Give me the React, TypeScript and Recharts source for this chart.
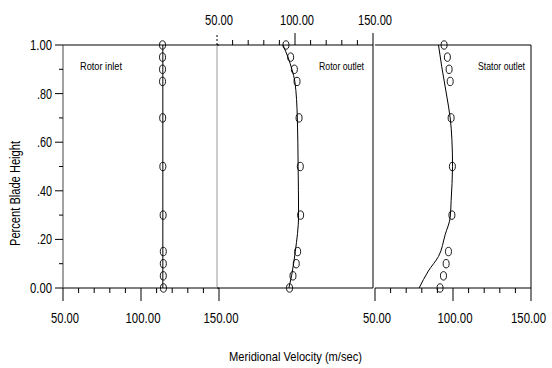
import React from "react"
import { ComposedChart, Line, Scatter, XAxis, YAxis, ReferenceLine } from "recharts"

// ─── Data ────────────────────────────────────────────────────────────────────
const heights = [1.0, 0.95, 0.9, 0.85, 0.7, 0.5, 0.3, 0.15, 0.1, 0.05, 0.0]

const rotorInletMeas = [113.8, 113.8, 113.8, 113.8, 113.9, 114.0, 114.2, 114.3, 114.3, 114.3, 114.4]
const rotorOutletMeas = [94.2, 97.2, 99.6, 101.3, 102.6, 103.4, 103.6, 101.7, 100.8, 98.7, 96.5]
const statorOutletMeas = [94.3, 96.4, 97.5, 98.2, 98.8, 99.6, 99.3, 97.1, 95.6, 93.9, 91.7]

// fitted curves (height, velocity)
const rotorInletFitH = [0, 1]
const rotorInletFitV = [114.0, 114.0]
const rotorOutletFitH = [0, 0.05, 0.1, 0.15, 0.3, 0.5, 0.7, 0.85, 0.9, 0.95, 1.0]
const rotorOutletFitV = [96.1, 97.8, 99.1, 100.2, 102.3, 102.0, 101.5, 99.9, 98.0, 95.5, 92.3]
const statorOutletFitH = [0, 0.07, 0.13, 0.22, 0.29, 0.36, 0.5, 0.61, 0.7, 0.79, 0.91, 1.0]
const statorOutletFitV = [78.3, 84.2, 90.7, 95.0, 98.2, 98.8, 99.7, 99.3, 98.2, 96.0, 92.8, 90.7]

const xTicks = [50, 60, 70, 80, 90, 100, 110, 120, 130, 140, 150]
const yTicks = [0, 0.1, 0.2, 0.3, 0.4, 0.5, 0.6, 0.7, 0.8, 0.9, 1.0]

const pts = (v: number[], h: number[]) => v.map((x, i) => ({ v: x, h: h[i] }))

// the original uses a very narrow face; squeeze Liberation Sans with textLength
const FONT = "'Liberation Sans', Arial, sans-serif"
const W = 552
const H = 368

function Narrow({ w, children, ...rest }: any) {
  return (
    <text fontFamily={FONT} fill="#000" textLength={w} lengthAdjust="spacingAndGlyphs" {...rest}>
      {children}
    </text>
  )
}

// ─── Ticks ───────────────────────────────────────────────────────────────────
function BottomTick({ x, y, payload }: any) {
  const major = payload.value % 50 === 0
  const s = payload.value.toFixed(2)
  const w = s.length > 5 ? 35 : 28
  // the right-most label is pulled in a little so it stays on the page
  const tx = Math.min(x + 2, W - 6 - w / 2)
  return (
    <g>
      <line x1={x} y1={y} x2={x} y2={y + (major ? 13 : 5)} stroke="#000" />
      {major && (
        <Narrow x={tx} y={y + 35} textAnchor="middle" fontSize={15} w={w}>
          {s}
        </Narrow>
      )}
    </g>
  )
}

function TopTick({ x, y, payload }: any) {
  const major = payload.value % 50 === 0
  const s = payload.value.toFixed(2)
  return (
    <g>
      <line x1={x} y1={y} x2={x} y2={y - (major ? 12 : 5)} stroke="#000"
        strokeDasharray={payload.value === 50 ? "2 2" : undefined} />
      {major && (
        <Narrow x={x + 2} y={y - 20} textAnchor="middle" fontSize={15} w={s.length > 5 ? 34 : 28}>
          {s}
        </Narrow>
      )}
    </g>
  )
}

function LeftTick({ x, y, payload }: any) {
  const k = Math.round(payload.value * 10)
  const major = k % 2 === 0
  const label = k === 0 ? "0.00" : k === 10 ? "1.00" : "." + (k * 10)
  return (
    <g>
      <line x1={x} y1={y} x2={x - (major ? 8 : 4)} y2={y} stroke="#000" />
      {major && (
        <Narrow x={x - 11} y={y} dy="0.36em" textAnchor="end" fontSize={14} w={label.length > 3 ? 22 : 15}>
          {label}
        </Narrow>
      )}
    </g>
  )
}

function Circle({ cx, cy }: any) {
  return <ellipse cx={cx} cy={cy} rx={3} ry={4.2} fill="none" stroke="#000" strokeWidth={0.9} />
}

// ─── App ─────────────────────────────────────────────────────────────────────
export default function App() {
  const layer: React.CSSProperties = { position: "absolute", left: 0, top: 0 }
  return (
    <div style={{ position: "absolute", left: 0, top: 0, width: W, height: H, background: "#fff" }}>
      {/* Rotor inlet */}
      <div style={layer}>
        <ComposedChart width={W} height={H} margin={{ top: 45, right: 333, bottom: 40, left: 20 }}>
          <XAxis dataKey="v" type="number" domain={[50, 150]} ticks={xTicks} interval={0}
            tickSize={0} tickMargin={0} height={40} tick={<BottomTick />} stroke="#000" />
          <YAxis dataKey="h" type="number" domain={[0, 1]} ticks={yTicks} interval={0}
            tickSize={0} tickMargin={0} width={43} tick={<LeftTick />} stroke="#444" />
          <ReferenceLine y={1} stroke="#000" />
          <Line data={pts(rotorInletFitV, rotorInletFitH)} dataKey="h" type="linear"
            stroke="#000" strokeWidth={1} dot={false} isAnimationActive={false} />
          <Scatter data={pts(rotorInletMeas, heights)} shape={<Circle />} isAnimationActive={false} />
        </ComposedChart>
      </div>

      {/* Rotor outlet */}
      <div style={layer}>
        <ComposedChart width={W} height={H} margin={{ top: 15, right: 179, bottom: 80, left: 217 }}>
          <XAxis dataKey="v" type="number" domain={[50, 150]} ticks={xTicks} interval={0}
            orientation="top" tickSize={0} tickMargin={0} height={30} tick={<TopTick />} stroke="#000" />
          <YAxis dataKey="h" type="number" domain={[0, 1]} hide />
          <ReferenceLine x={50} stroke="#999" />
          <ReferenceLine x={150} stroke="#000" />
          <ReferenceLine y={0} stroke="#000" />
          <Line data={pts(rotorOutletFitV, rotorOutletFitH)} dataKey="h" type="monotoneY"
            stroke="#000" strokeWidth={1} dot={false} isAnimationActive={false} />
          <Scatter data={pts(rotorOutletMeas, heights)} shape={<Circle />} isAnimationActive={false} />
        </ComposedChart>
      </div>

      {/* Stator outlet */}
      <div style={layer}>
        <ComposedChart width={W} height={H} margin={{ top: 45, right: 21, bottom: 40, left: 375 }}>
          <XAxis dataKey="v" type="number" domain={[50, 150]} ticks={xTicks} interval={0}
            tickSize={0} tickMargin={0} height={40} tick={<BottomTick />} stroke="#000" />
          <YAxis dataKey="h" type="number" domain={[0, 1]} hide />
          <ReferenceLine y={1} stroke="#000" />
          <ReferenceLine x={150} stroke="#000" />
          <Line data={pts(statorOutletFitV, statorOutletFitH)} dataKey="h" type="monotoneY"
            stroke="#000" strokeWidth={1} dot={false} isAnimationActive={false} />
          <Scatter data={pts(statorOutletMeas, heights)} shape={<Circle />} isAnimationActive={false} />
        </ComposedChart>
      </div>

      {/* titles and panel notes */}
      <svg width={W} height={H} style={{ ...layer, pointerEvents: "none" }}>
        <Narrow x={80} y={70} fontSize={11} w={42}>Rotor inlet</Narrow>
        <Narrow x={319} y={70} fontSize={11} w={45}>Rotor outlet</Narrow>
        <Narrow x={478} y={70} fontSize={11} w={47}>Stator outlet</Narrow>
        <Narrow x={229} y={361} fontSize={13.5} w={133}>Meridional Velocity (m/sec)</Narrow>
        <Narrow transform="translate(20,246) rotate(-90)" fontSize={14} w={105}>Percent Blade Height</Narrow>
      </svg>
    </div>
  )
}
